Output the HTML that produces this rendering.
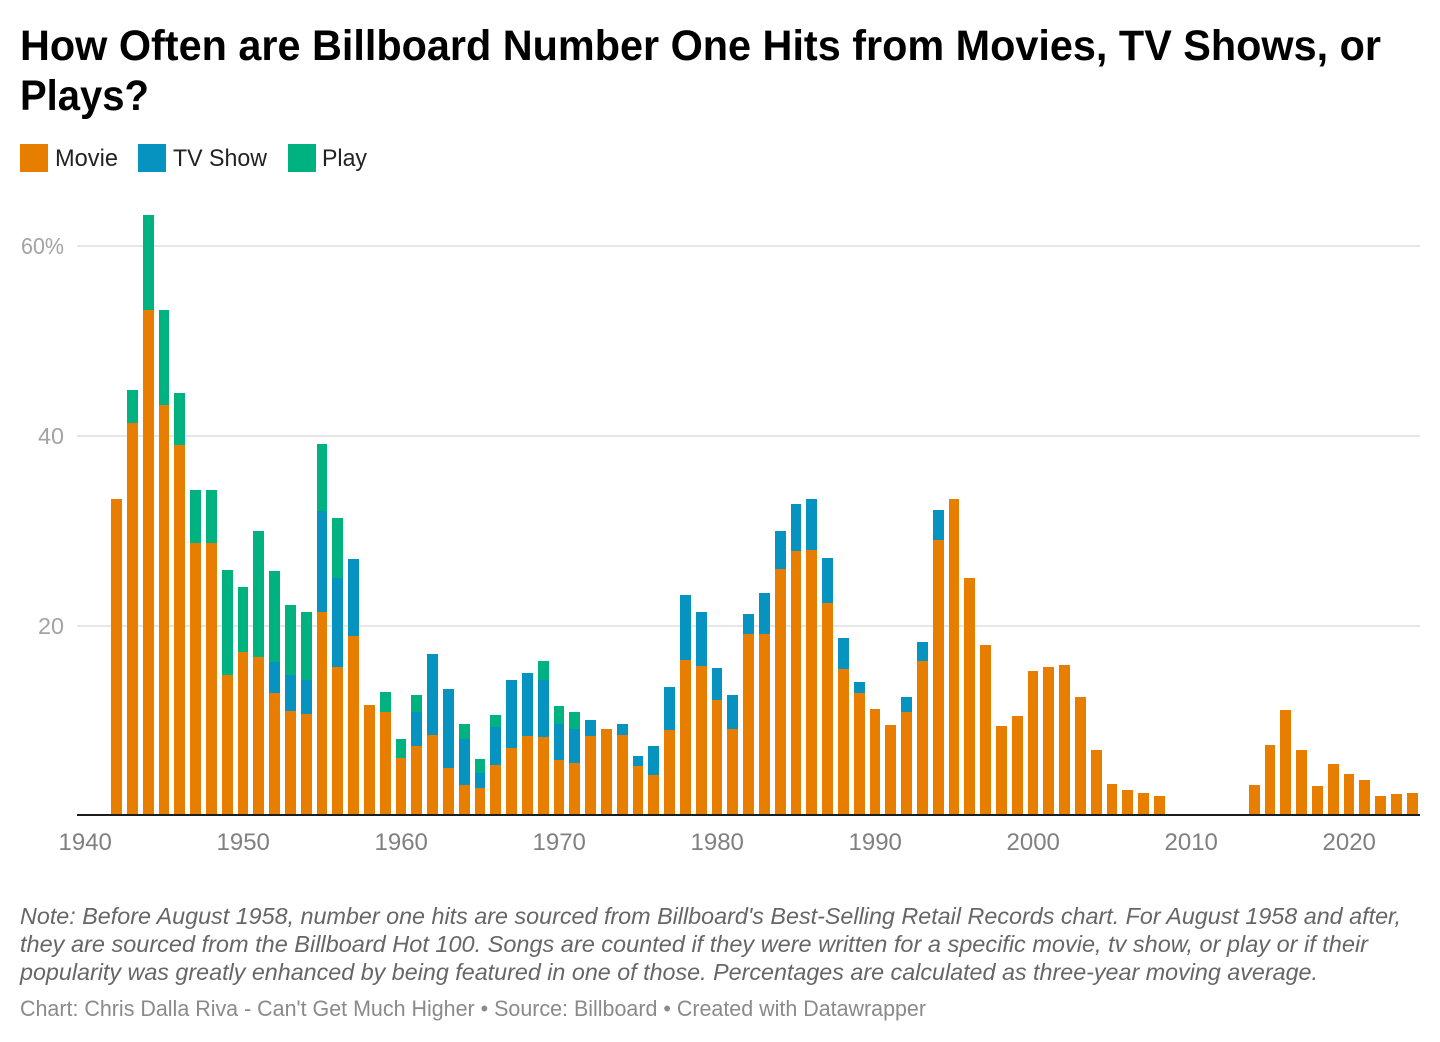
<!DOCTYPE html>
<html lang="en">
<head>
<meta charset="utf-8">
<title>How Often are Billboard Number One Hits from Movies, TV Shows, or Plays?</title>
<style>
  html, body { margin: 0; padding: 0; background: #fff; }
  body { width: 1440px; height: 1042px; overflow: hidden; }
  svg { display: block; font-family: "Liberation Sans", sans-serif; }
  .title { font-size: 42.5px; font-weight: 700; fill: #000; }
  .legend-label { font-size: 24px; fill: #222; }
  .y-tick { font-size: 23.5px; fill: #a3a3a3; }
  .x-tick { font-size: 24px; fill: #808080; text-anchor: middle; }
  .note { font-size: 23.5px; font-style: italic; fill: #666; }
  .source { font-size: 22px; fill: #8a8a8a; }
</style>
</head>
<body>
<svg id="chart" width="1440" height="1042" viewBox="0 0 1440 1042" xmlns="http://www.w3.org/2000/svg">
  <rect x="0" y="0" width="1440" height="1042" fill="#ffffff"/>

  <text class="title" x="20" y="60" textLength="1361" lengthAdjust="spacingAndGlyphs">How Often are Billboard Number One Hits from Movies, TV Shows, or</text>
  <text class="title" x="20" y="110" textLength="129" lengthAdjust="spacingAndGlyphs">Plays?</text>

  <g>
    <rect x="20" y="144" width="28" height="28" fill="#e87e00"/>
    <text class="legend-label" x="55" y="166" textLength="63" lengthAdjust="spacingAndGlyphs">Movie</text>
    <rect x="138" y="144" width="28" height="28" fill="#0793bf"/>
    <text class="legend-label" x="173" y="166" textLength="94" lengthAdjust="spacingAndGlyphs">TV Show</text>
    <rect x="288" y="144" width="28" height="28" fill="#00b280"/>
    <text class="legend-label" x="322" y="166" textLength="45" lengthAdjust="spacingAndGlyphs">Play</text>
  </g>

  <g id="grid"></g>
  <g id="bars"></g>
  <rect x="77" y="814" width="1343" height="2" fill="#1d1d1d"/>
  <g id="xticks"></g>

  <text class="note" x="20" y="924" textLength="1381" lengthAdjust="spacingAndGlyphs">Note: Before August 1958, number one hits are sourced from Billboard's Best-Selling Retail Records chart. For August 1958 and after,</text>
  <text class="note" x="20" y="952" textLength="1348" lengthAdjust="spacingAndGlyphs">they are sourced from the Billboard Hot 100. Songs are counted if they were written for a specific movie, tv show, or play or if their</text>
  <text class="note" x="20" y="980" textLength="1298" lengthAdjust="spacingAndGlyphs">popularity was greatly enhanced by being featured in one of those. Percentages are calculated as three-year moving average.</text>
  <text class="source" x="20" y="1016" textLength="906" lengthAdjust="spacingAndGlyphs">Chart: Chris Dalla Riva - Can't Get Much Higher • Source: Billboard • Created with Datawrapper</text>
</svg>
<script>
const firstYear = 1942;
const movieValues = [33.3,41.3,53.2,43.2,38.9,28.6,28.6,14.7,17.2,16.6,12.8,11,10.6,21.4,15.6,18.85,11.6,10.8,6,7.3,8.4,4.9,3.2,2.8,5.3,7.1,8.3,8.2,5.8,5.5,8.3,9.05,8.4,5.2,4.2,8.9,16.3,15.7,12.1,9.05,19.05,19.05,25.9,27.8,27.9,22.3,15.4,12.8,11.2,9.5,10.8,16.2,28.9,33.3,24.9,17.9,9.4,10.4,15.2,15.6,15.8,12.4,6.8,3.3,2.6,2.3,2,0,0,0,0,0,3.2,7.4,11.1,6.8,3.1,5.4,4.3,3.7,2,2.2,2.3];
const tvValues = [0,0,0,0,0,0,0,0,0,0,3.3,3.7,3.6,10.6,9.3,8.1,0,0,0,3.5,8.5,8.4,4.8,1.6,4,7.1,6.6,6,3.8,3.6,1.7,0,1.2,1,3.1,4.6,6.9,5.7,3.4,3.55,2.15,4.35,4,4.9,5.4,4.75,3.2,1.2,0,0,1.6,2,3.2,0,0,0,0,0,0,0,0,0,0,0,0,0,0,0,0,0,0,0,0,0,0,0,0,0,0,0,0,0,0];
const playValues = [0,3.4,10,10,5.5,5.6,5.6,11.1,6.8,13.3,9.6,7.4,7.2,7.1,6.4,0,0,2.2,2,1.8,0,0,1.6,1.5,1.2,0,0,2,1.9,1.7,0,0,0,0,0,0,0,0,0,0,0,0,0,0,0,0,0,0,0,0,0,0,0,0,0,0,0,0,0,0,0,0,0,0,0,0,0,0,0,0,0,0,0,0,0,0,0,0,0,0,0,0,0];
const yTickValues = [20, 40, 60];
const yTickLabels = ['20', '40', '60%'];
const xTickYears = [1940, 1950, 1960, 1970, 1980, 1990, 2000, 2010, 2020];

const SVG_NS = 'http://www.w3.org/2000/svg';
const barOffset = 5.6;
const barWidth = 10.85;
function xScale(year) { return 85.2 + (year - 1940) * 15.8; }
function yScale(value) { return 815 - value * 9.5; }

const gridLayer = document.getElementById('grid');
yTickValues.forEach(function (value, i) {
  const line = document.createElementNS(SVG_NS, 'rect');
  
  
  line.setAttribute('x', 77);
  line.setAttribute('y', yScale(value));
  line.setAttribute('width', 1343);
  line.setAttribute('height', 2);
  line.setAttribute('fill', '#e6e6e6');
  gridLayer.appendChild(line);

  const label = document.createElementNS(SVG_NS, 'text');
  
  
  label.setAttribute('class', 'y-tick');
  label.setAttribute('x', value === 60 ? 21 : 38);
  label.setAttribute('y', yScale(value) + 9);
  label.setAttribute('textLength', value === 60 ? 43 : 26);
  label.setAttribute('lengthAdjust', 'spacingAndGlyphs');
  label.textContent = yTickLabels[i];
  gridLayer.appendChild(label);
});

const barLayer = document.getElementById('bars');
function addSegment(year, base, value, color, name) {
  if (!(value > 0)) return;
  const leftExact = xScale(year) - barOffset;
  const left = Math.round(leftExact);
  const right = Math.round(leftExact + barWidth);
  const top = Math.round(yScale(base + value));
  const bottom = Math.round(yScale(base));
  const seg = document.createElementNS(SVG_NS, 'rect');
  
  
  seg.setAttribute('x', left);
  seg.setAttribute('y', top);
  seg.setAttribute('width', right - left);
  seg.setAttribute('height', Math.max(0, bottom - top));
  seg.setAttribute('fill', color);
  barLayer.appendChild(seg);
}
movieValues.forEach(function (movie, i) {
  const year = firstYear + i;
  const tv = tvValues[i];
  const play = playValues[i];
  addSegment(year, 0, movie, '#e87e00', 'bar-movie');
  addSegment(year, movie, tv, '#0793bf', 'bar-tv-show');
  addSegment(year, movie + tv, play, '#00b280', 'bar-play');
});

const xLayer = document.getElementById('xticks');
xTickYears.forEach(function (year) {
  const label = document.createElementNS(SVG_NS, 'text');
  
  
  label.setAttribute('class', 'x-tick');
  label.setAttribute('x', xScale(year));
  label.setAttribute('y', 850);
  label.textContent = String(year);
  xLayer.appendChild(label);
});
</script>
</body>
</html>
